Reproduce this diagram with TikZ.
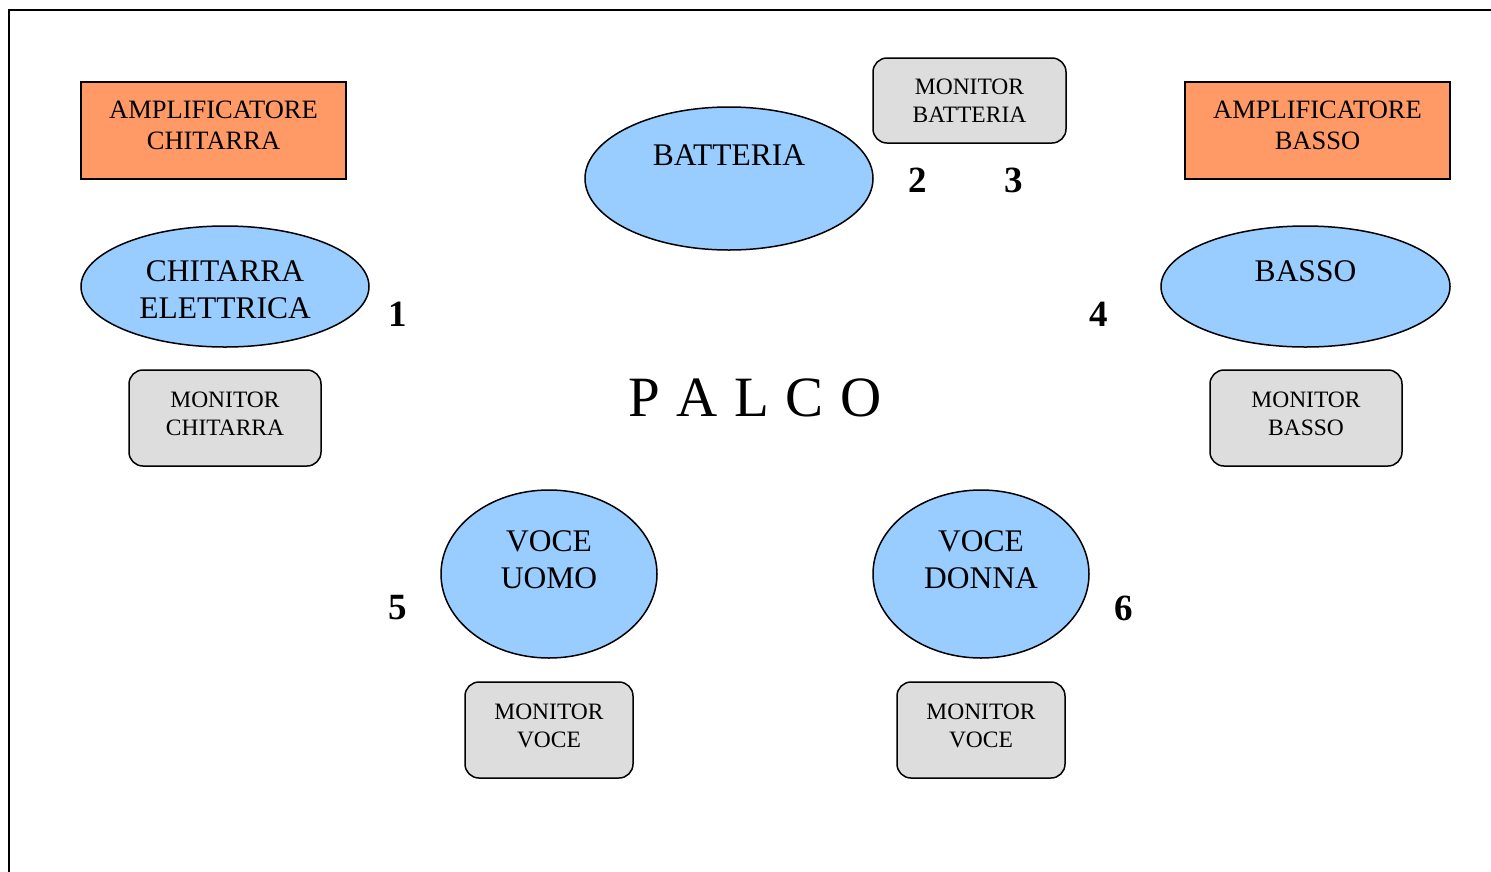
\documentclass[tikz,border=0pt]{standalone}
\usepackage{fontspec}
\setmainfont{Liberation Serif}
\usetikzlibrary{shapes.geometric}
\definecolor{ampfill}{HTML}{FF9966}
\definecolor{perffill}{HTML}{99CCFF}
\definecolor{monfill}{HTML}{DDDDDD}
\newcommand{\palcogap}{\hspace{16.75pt}}
\tikzset{
  amp/.style={draw=black, line width=1.6pt, fill=ampfill, rectangle, inner sep=0pt},
  perf/.style={draw=black, line width=1.5pt, fill=perffill, ellipse, inner sep=0pt},
  mon/.style={draw=black, line width=1.5pt, fill=monfill, rectangle, rounded corners=14pt, inner sep=0pt},
  amptext/.style={align=center, font=\fontsize{26.5}{31}\selectfont, text depth=10pt},
  montext/.style={align=center, font=\fontsize{23.5}{28}\selectfont},
  monlow/.style={text depth=8pt},
  perftext/.style={align=center, font=\fontsize{31.5}{37}\selectfont},
  numtext/.style={font=\fontsize{37}{40}\selectfont\bfseries},
}
\begin{document}
\begin{tikzpicture}[x=1pt,y=-1pt]
\useasboundingbox (0,0) rectangle (1491,871);
% frame
\draw[line width=2pt] (9,880) -- (9,10) -- (1500,10);
% amplifiers
\node[amp, minimum width=265pt, minimum height=97pt, amptext] (ampg) at (213.5,130.5) {AMPLIFICATORE\\CHITARRA};
\node[amp, minimum width=265pt, minimum height=97pt, amptext] (ampb) at (1317.5,130.5) {AMPLIFICATORE\\BASSO};
% drums
\node[perf, minimum width=288pt, minimum height=143pt] (bat) at (729,178.5) {};
\node[perftext] (battext) at (729,155) {BATTERIA};
\node[mon, minimum width=193pt, minimum height=85pt, montext] (monbat) at (969.5,100.5) {MONITOR\\BATTERIA};
% guitar
\node[perf, minimum width=288pt, minimum height=121pt] (gtr) at (225,286.5) {};
\node[perftext] (gtrtext) at (225,289.5) {CHITARRA\\ELETTRICA};
\node[mon, minimum width=192pt, minimum height=96pt, montext, monlow] (mongtr) at (225,418) {MONITOR\\CHITARRA};
% bass
\node[perf, minimum width=289pt, minimum height=121pt] (bas) at (1305.5,286.5) {};
\node[perftext] (bastext) at (1305.5,271) {BASSO};
\node[mon, minimum width=192pt, minimum height=96pt, montext, monlow] (monbas) at (1306,418) {MONITOR\\BASSO};
% voices
\node[perf, minimum width=216pt, minimum height=168pt] (vu) at (549,574) {};
\node[perftext] (vutext) at (549,559.5) {VOCE\\UOMO};
\node[mon, minimum width=168pt, minimum height=96pt, montext, monlow] (monvu) at (549,730) {MONITOR\\VOCE};
\node[perf, minimum width=216pt, minimum height=168pt] (vd) at (981,574) {};
\node[perftext] (vdtext) at (981,559.5) {VOCE\\DONNA};
\node[mon, minimum width=168pt, minimum height=96pt, montext, monlow] (monvd) at (981,730) {MONITOR\\VOCE};
% stage
\node[font=\fontsize{57}{60}\selectfont] (palco) at (755,398) {P\palcogap A\palcogap L\palcogap C\palcogap O};
% numbers
\node[numtext] (n1) at (398,314) {1};
\node[numtext] (n2) at (918,180) {2};
\node[numtext] (n3) at (1014,180) {3};
\node[numtext] (n4) at (1099,314) {4};
\node[numtext] (n5) at (398,608) {5};
\node[numtext] (n6) at (1124,608) {6};
\end{tikzpicture}
\end{document}
